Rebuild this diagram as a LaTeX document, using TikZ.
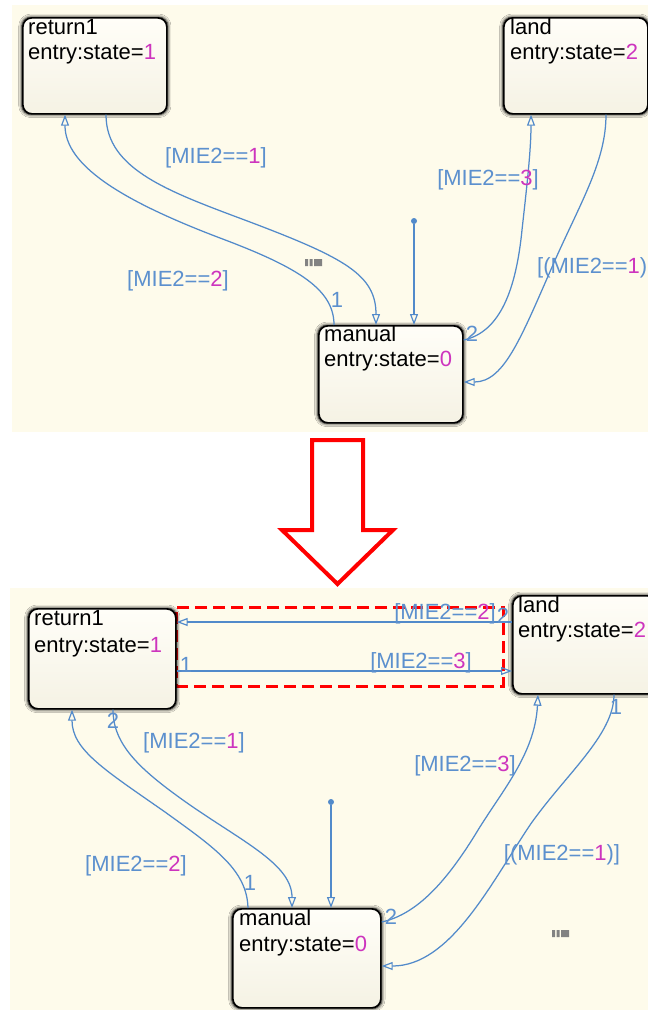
\documentclass[tikz,border=0pt]{standalone}
\usepackage{fontspec}
\setmainfont{Liberation Sans}
\usetikzlibrary{arrows.meta,shadows.blur}
\definecolor{panel}{RGB}{254,251,235}
\definecolor{edge}{RGB}{82,138,202}
\definecolor{lbl}{RGB}{92,144,206}
\definecolor{mag}{RGB}{205,52,190}
\definecolor{boxtop}{RGB}{255,254,248}
\definecolor{boxbot}{RGB}{245,242,228}
\definecolor{icon}{RGB}{130,130,130}
\newcommand\nm[1]{\textcolor{mag}{#1}}
\begin{document}
\begin{tikzpicture}[x=1pt,y=-1pt,
  stbox/.style={draw=black, line width=1.7pt, rounded corners=9pt,
    top color=boxtop, bottom color=boxbot, anchor=north west, inner sep=0pt,
    blur shadow={shadow xshift=0pt, shadow yshift=0pt, shadow blur radius=3pt,
      shadow blur steps=8, shadow opacity=100, shadow scale=1.015}},
  sttxt/.style={anchor=base west, inner sep=0pt, font=\fontsize{22}{25}\selectfont},
  glabel/.style={inner sep=0pt, text=lbl, font=\fontsize{22}{25}\selectfont},
  tnum/.style={inner sep=0pt, text=lbl, font=\fontsize{22}{24}\selectfont},
  trans/.style={draw=edge, line width=1.25pt,
    -{Triangle[open, length=11pt, width=8pt, line width=1.2pt]}},
  initdot/.style={circle, fill=edge, inner sep=0pt, minimum size=6pt},
  selbox/.style={draw=red, line width=2.6pt, dash pattern=on 12pt off 6pt,
    anchor=north west, inner sep=0pt},
  bigarrow/.style={draw=red, line width=4pt, fill=white, line join=miter}
]
\useasboundingbox (0,0) rectangle (648,1010);
\fill[white] (0,0) rectangle (648,1010);

% panels
\fill[panel] (12,5) rectangle (648,432);
\fill[panel] (10,588) rectangle (648,1010);

% ---------- upper chart ----------
\node[stbox, minimum width=144pt, minimum height=96pt] (r1) at (22,17) {};
\node[sttxt] (r1a) at (28,34) {return1};
\node[sttxt] (r1b) at (28,59) {entry:state=\nm{1}};

\node[stbox, minimum width=144pt, minimum height=96pt] (l1) at (503,17) {};
\node[sttxt] (l1a) at (510,34) {land};
\node[sttxt] (l1b) at (510,59) {entry:state=\nm{2}};

\node[stbox, minimum width=144pt, minimum height=97pt] (m1) at (318,325) {};
\node[sttxt] (m1a) at (324,341) {manual};
\node[sttxt] (m1b) at (324,366) {entry:state=\nm{0}};

\node[initdot] (i1) at (414,221) {};
\draw[trans] (i1) -- ([xshift=96pt]m1.north west);

% manual -> return1
\draw[trans] ([xshift=16pt]m1.north west) .. controls (334,290) and (300,268) .. (220,238)
  .. controls (120,200) and (65,165) .. ([xshift=43pt]r1.south west);
% return1 -> manual
\draw[trans] ([xshift=84pt]r1.south west) .. controls (106,170) and (170,192) .. (250,222)
  .. controls (345,258) and (376,275) .. ([xshift=58pt]m1.north west);
% manual -> land
\draw[trans] ([yshift=-15pt]m1.north east) .. controls (500,332) and (516,290) .. (522,230)
  .. controls (527,185) and (531,150) .. ([xshift=28pt]l1.south west);
% land -> manual
\draw[trans] ([xshift=103pt]l1.south west) .. controls (606,160) and (582,200) .. (556,258)
  .. controls (522,335) and (505,382) .. ([yshift=-57pt]m1.north east);

\node[glabel] (g1) at (216,158) {[MIE2==\nm{1}]};
\node[glabel] (g2) at (178,281) {[MIE2==\nm{2}]};
\node[glabel] (g3) at (488,180) {[MIE2==\nm{3}]};
\node[glabel, anchor=west] (g4) at (537,268) {[(MIE2==\nm{1})};
\node[tnum] (n1) at (337,300) {1};
\node[tnum] (n2) at (472,334) {2};

\fill[icon] (305,259) rectangle (308,266) (309.5,259) rectangle (312.5,266) (314,259) rectangle (322,266);

% ---------- transformation arrow ----------
\draw[bigarrow] (312,440) -- (363,440) -- (363,530) -- (393,530) -- (337.5,584)
  -- (282,530) -- (312,530) -- cycle;

% ---------- lower chart ----------
\node[selbox, minimum width=327pt, minimum height=79pt] (sel) at (175,606) {};

\node[stbox, minimum width=147pt, minimum height=100pt] (r2) at (28,608) {};
\node[sttxt] (r2a) at (34,625) {return1};
\node[sttxt] (r2b) at (34,652) {entry:state=\nm{1}};

\node[stbox, minimum width=144pt, minimum height=98pt] (l2) at (512,595) {};
\node[sttxt] (l2a) at (518,612) {land};
\node[sttxt] (l2b) at (518,637) {entry:state=\nm{2}};

\node[stbox, minimum width=148pt, minimum height=99pt] (m2) at (232,908) {};
\node[sttxt] (m2a) at (239,925) {manual};
\node[sttxt] (m2b) at (239,951) {entry:state=\nm{0}};

\node[initdot] (i2) at (331,802) {};
\draw[trans] (i2) -- ([xshift=99pt]m2.north west);

% land -> return1 and return1 -> land
\draw[trans] ([yshift=-27pt]l2.north west) -- ([yshift=-14pt]r2.north east);
\draw[trans] ([yshift=-63pt]r2.north east) -- ([yshift=-76pt]l2.north west);
% manual -> return1
\draw[trans] ([xshift=16pt]m2.north west) .. controls (247,870) and (215,848) .. (165,812)
  .. controls (105,770) and (72,750) .. ([xshift=44pt]r2.south west);
% return1 -> manual
\draw[trans] ([xshift=85pt]r2.south west) .. controls (113,745) and (140,770) .. (190,805)
  .. controls (245,843) and (292,865) .. ([xshift=60pt]m2.north west);
% manual -> land
\draw[trans] ([yshift=-14pt]m2.north east) .. controls (418,914) and (447,880) .. (475,835)
  .. controls (500,793) and (535,755) .. ([xshift=26pt]l2.south west);
% land -> manual
\draw[trans] ([xshift=102pt]l2.south west) .. controls (614,735) and (565,775) .. (530,825)
  .. controls (490,885) and (450,966) .. ([yshift=-58pt]m2.north east);

\node[glabel] (h1) at (445,614) {[MIE2==\nm{2}]};
\node[glabel] (h2) at (421,663) {[MIE2==\nm{3}]};
\node[glabel] (h3) at (194,743) {[MIE2==\nm{1}]};
\node[glabel] (h4) at (136,866) {[MIE2==\nm{2}]};
\node[glabel] (h5) at (465,766) {[MIE2==\nm{3}]};
\node[glabel] (h6) at (562,855) {[(MIE2==\nm{1})]};
\node[tnum] (k1) at (503,616) {2};
\node[tnum] (k2) at (186,665) {1};
\node[tnum] (k3) at (113,721) {2};
\node[tnum] (k4) at (250,883) {1};
\node[tnum] (k5) at (391,917) {2};
\node[tnum] (k6) at (616,707) {1};

\fill[icon] (552,930) rectangle (555,937) (556.5,930) rectangle (559.5,937) (561,930) rectangle (569,937);
\end{tikzpicture}
\end{document}
